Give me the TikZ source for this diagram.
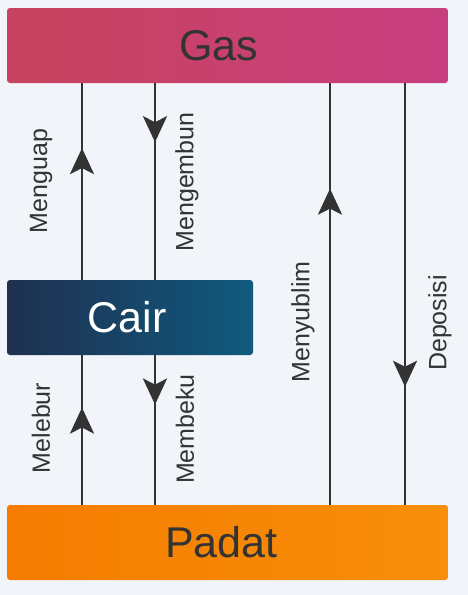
\documentclass[tikz,border=0pt]{standalone}
\usepackage{fontspec}
\setmainfont{Liberation Sans}
\usetikzlibrary{arrows.meta}
\usetikzlibrary{decorations.markings}
\usepackage{xcolor}
\definecolor{bgcol}{HTML}{F1F4F9}
\definecolor{ink}{HTML}{333333}
\definecolor{gasL}{HTML}{C8435E}
\definecolor{gasR}{HTML}{C83F80}
\definecolor{cairL}{HTML}{1F3050}
\definecolor{cairR}{HTML}{0F5A7E}
\definecolor{padatL}{HTML}{F57C00}
\definecolor{padatR}{HTML}{F78F0A}
\tikzset{
  phase/.style={rounded corners=3pt, inner sep=0pt, minimum height=75pt,
    font=\fontsize{43}{46}\selectfont},
  proc/.style={ink, line width=2.6pt,
    postaction={decorate, decoration={markings,
      mark=at position #1 with {\arrow{Stealth[length=26pt,width=24pt,inset=6pt]}}}}},
  lbl/.style={rotate=90, text=ink, font=\fontsize{25}{27}\selectfont}
}

\begin{document}
\begin{tikzpicture}[x=1pt,y=-1pt]
\fill [bgcol] (0,0) rectangle (468,595);
\useasboundingbox (0,0) rectangle (468,595);
% the three phases
\node [phase, minimum width=441pt, left color=gasL, right color=gasR, text=ink] (gas) at (227.5,45.5) {Gas\kern18pt};
\node [phase, minimum width=246pt, left color=cairL, right color=cairR, text=white] (cair) at (130,317.5) {Cair\kern6pt};
\node [phase, minimum width=441pt, left color=padatL, right color=padatR, text=ink] (padat) at (227.5,542.5) {Padat\kern12pt};
% columns
\coordinate (c1) at (82,0);
\coordinate (c2) at (155,0);
\coordinate (c3) at (330,0);
\coordinate (c4) at (405,0);
% transitions
\draw [proc=0.67] (cair.north -| c1) -- (gas.south -| c1);
\draw [proc=0.30] (gas.south -| c2) -- (cair.north -| c2);
\draw [proc=0.65] (padat.north -| c1) -- (cair.south -| c1);
\draw [proc=0.33] (cair.south -| c2) -- (padat.north -| c2);
\draw [proc=0.75] (padat.north -| c3) -- (gas.south -| c3);
\draw [proc=0.72] (gas.south -| c4) -- (padat.north -| c4);
% labels
\node [lbl] (menguap) at (41,181) {Menguap};
\node [lbl] (mengembun) at (187,182) {Mengembun};
\node [lbl] (melebur) at (41,428) {Melebur};
\node [lbl] (membeku) at (185,429) {Membeku};
\node [lbl] (menyublim) at (303,322) {Menyublim};
\node [lbl] (deposisi) at (440,323) {Deposisi};
\end{tikzpicture}
\end{document}
